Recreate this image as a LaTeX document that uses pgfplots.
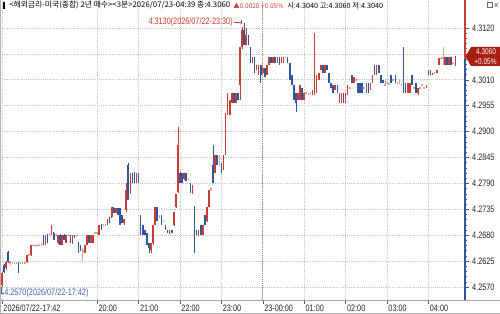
\documentclass[border=0pt]{standalone}
\usepackage{pgfplots}
\pgfplotsset{compat=1.18}
\usepackage{pgfplotstable}
\usepackage{fontspec}
\setmainfont{Liberation Sans}[FakeStretch=0.78]
\newfontfamily\kr{Noto Sans CJK KR}
\definecolor{upc}{RGB}{205,60,50}
\definecolor{dnc}{RGB}{50,85,160}
\definecolor{flc}{RGB}{215,160,155}
\definecolor{boxc}{RGB}{170,30,20}
\definecolor{annr}{RGB}{195,60,50}
\definecolor{annb}{RGB}{70,100,165}

\pgfplotstableread{
i o h l c
0 4.2574 4.2602 4.2570 4.2600
1 4.2617 4.2619 4.2600 4.2602
2 4.2610 4.2625 4.2606 4.2623
3 4.2644 4.2646 4.2621 4.2623
4 4.2621 4.2625 4.2617 4.2623
5 4.2621 4.2623 4.2619 4.2621
6 4.2621 4.2623 4.2621 4.2621
7 4.2621 4.2623 4.2619 4.2621
8 4.2621 4.2623 4.2600 4.2600
9 4.2621 4.2623 4.2619 4.2621
10 4.2621 4.2621 4.2619 4.2621
11 4.2621 4.2625 4.2621 4.2621
12 4.2623 4.2638 4.2621 4.2638
13 4.2638 4.2640 4.2636 4.2638
14 4.2638 4.2659 4.2636 4.2659
15 4.2659 4.2661 4.2657 4.2659
16 4.2659 4.2659 4.2657 4.2659
17 4.2659 4.2661 4.2659 4.2659
18 4.2659 4.2661 4.2657 4.2659
19 4.2659 4.2663 4.2659 4.2659
20 4.2680 4.2680 4.2659 4.2663
21 4.2659 4.2680 4.2659 4.2680
22 4.2680 4.2682 4.2663 4.2663
23 4.2680 4.2685 4.2678 4.2680
24 4.2680 4.2702 4.2680 4.2691
25 4.2685 4.2687 4.2670 4.2670
26 4.2680 4.2682 4.2678 4.2680
27 4.2663 4.2680 4.2661 4.2680
28 4.2680 4.2682 4.2659 4.2659
29 4.2659 4.2680 4.2659 4.2680
30 4.2680 4.2682 4.2670 4.2670
31 4.2663 4.2680 4.2663 4.2680
32 4.2680 4.2682 4.2678 4.2680
33 4.2680 4.2680 4.2663 4.2663
34 4.2663 4.2680 4.2661 4.2680
35 4.2680 4.2680 4.2674 4.2674
36 4.2678 4.2680 4.2676 4.2678
37 4.2663 4.2665 4.2642 4.2642
38 4.2659 4.2659 4.2646 4.2646
39 4.2649 4.2653 4.2623 4.2646
40 4.2642 4.2659 4.2642 4.2659
41 4.2659 4.2680 4.2659 4.2680
42 4.2680 4.2680 4.2663 4.2663
43 4.2663 4.2680 4.2663 4.2680
44 4.2663 4.2680 4.2663 4.2680
45 4.2685 4.2687 4.2683 4.2685
46 4.2685 4.2685 4.2683 4.2685
47 4.2680 4.2702 4.2680 4.2702
48 4.2702 4.2704 4.2691 4.2691
49 4.2702 4.2704 4.2700 4.2702
50 4.2702 4.2702 4.2700 4.2702
51 4.2702 4.2715 4.2702 4.2715
52 4.2719 4.2719 4.2706 4.2706
53 4.2719 4.2740 4.2717 4.2740
54 4.2738 4.2740 4.2727 4.2727
55 4.2727 4.2738 4.2727 4.2738
56 4.2738 4.2738 4.2723 4.2723
57 4.2738 4.2738 4.2702 4.2702
58 4.2723 4.2723 4.2706 4.2706
59 4.2706 4.2715 4.2702 4.2715
60 4.2734 4.2791 4.2730 4.2776
61 4.2829 4.2833 4.2755 4.2755
62 4.2770 4.2812 4.2768 4.2812
63 4.2812 4.2812 4.2791 4.2791
64 4.2812 4.2814 4.2791 4.2791
65 4.2791 4.2812 4.2791 4.2812
66 4.2812 4.2812 4.2791 4.2791
67 4.2723 4.2723 4.2680 4.2680
68 4.2702 4.2702 4.2680 4.2680
69 4.2691 4.2691 4.2680 4.2680
70 4.2685 4.2685 4.2659 4.2659
71 4.2663 4.2663 4.2642 4.2653
72 4.2649 4.2663 4.2642 4.2663
73 4.2663 4.2702 4.2660 4.2702
74 4.2702 4.2740 4.2702 4.2740
75 4.2740 4.2740 4.2710 4.2710
76 4.2719 4.2723 4.2717 4.2723
77 4.2723 4.2723 4.2702 4.2702
78 4.2710 4.2712 4.2708 4.2710
79 4.2702 4.2702 4.2691 4.2691
80 4.2691 4.2691 4.2685 4.2685
81 4.2685 4.2691 4.2683 4.2691
82 4.2691 4.2691 4.2685 4.2685
83 4.2702 4.2730 4.2700 4.2730
84 4.2740 4.2768 4.2738 4.2768
85 4.2772 4.2910 4.2770 4.2872
86 4.2812 4.2814 4.2791 4.2791
87 4.2812 4.2812 4.2791 4.2791
88 4.2800 4.2812 4.2798 4.2812
89 4.2812 4.2812 4.2795 4.2795
90 4.2800 4.2802 4.2798 4.2800
91 4.2791 4.2791 4.2770 4.2770
92 4.2770 4.2787 4.2768 4.2787
93 4.2740 4.2742 4.2642 4.2680
94 4.2691 4.2691 4.2680 4.2680
95 4.2680 4.2691 4.2678 4.2691
96 4.2702 4.2702 4.2680 4.2680
97 4.2680 4.2702 4.2680 4.2702
98 4.2723 4.2723 4.2702 4.2702
99 4.2710 4.2740 4.2708 4.2740
100 4.2740 4.2776 4.2740 4.2776
101 4.2776 4.2780 4.2774 4.2780
102 4.2829 4.2872 4.2791 4.2791
103 4.2812 4.2850 4.2812 4.2850
104 4.2850 4.2850 4.2829 4.2829
105 4.2829 4.2850 4.2827 4.2829
106 4.2833 4.2833 4.2812 4.2819
107 4.2819 4.2850 4.2819 4.2850
108 4.2850 4.2940 4.2850 4.2940
109 4.2935 4.2982 4.2935 4.2982
110 4.2935 4.2967 4.2935 4.2967
111 4.2961 4.2982 4.2961 4.2982
112 4.2982 4.2982 4.2961 4.2961
113 4.2961 4.2982 4.2961 4.2982
114 4.2982 4.2982 4.2967 4.2967
115 4.2999 4.3080 4.2967 4.3080
116 4.3080 4.3122 4.3075 4.3116
117 4.3116 4.3130 4.3084 4.3084
118 4.3084 4.3120 4.3084 4.3105
119 4.3105 4.3105 4.3084 4.3084
120 4.3080 4.3080 4.3046 4.3046
121 4.3046 4.3058 4.3046 4.3058
122 4.3058 4.3058 4.3025 4.3025
123 4.3031 4.3041 4.3031 4.3041
124 4.3020 4.3041 4.3020 4.3041
125 4.3041 4.3041 4.3003 4.3020
126 4.3025 4.3035 4.3025 4.3035
127 4.3035 4.3035 4.3016 4.3016
128 4.3020 4.3041 4.3020 4.3041
129 4.3041 4.3058 4.3041 4.3058
130 4.3058 4.3058 4.3046 4.3046
131 4.3046 4.3058 4.3046 4.3058
132 4.3058 4.3058 4.3046 4.3046
133 4.3046 4.3058 4.3046 4.3058
134 4.3058 4.3058 4.3041 4.3041
135 4.3046 4.3058 4.3046 4.3058
136 4.3046 4.3058 4.3046 4.3058
137 4.3058 4.3060 4.3056 4.3058
138 4.3058 4.3058 4.3046 4.3046
139 4.3046 4.3046 4.3010 4.3010
140 4.3020 4.3020 4.2999 4.2999
141 4.2999 4.2999 4.2967 4.2967
142 4.2982 4.2982 4.2942 4.2961
143 4.2967 4.2982 4.2967 4.2982
144 4.2967 4.2999 4.2967 4.2999
145 4.2993 4.2993 4.2967 4.2967
146 4.2967 4.2982 4.2967 4.2982
147 4.2982 4.2984 4.2980 4.2982
148 4.2978 4.2982 4.2978 4.2982
149 4.2982 4.2984 4.2980 4.2982
150 4.2978 4.2988 4.2978 4.2988
151 4.2982 4.3109 4.2978 4.2988
152 4.2982 4.3020 4.2982 4.3020
153 4.3010 4.3025 4.3010 4.3025
154 4.3031 4.3041 4.3031 4.3041
155 4.3041 4.3041 4.3025 4.3025
156 4.3025 4.3041 4.3025 4.3041
157 4.3041 4.3041 4.3031 4.3031
158 4.3025 4.3025 4.3003 4.3003
159 4.3003 4.3003 4.2993 4.2993
160 4.2999 4.2999 4.2982 4.2982
161 4.2988 4.2999 4.2988 4.2999
162 4.2999 4.2999 4.2982 4.2982
163 4.2961 4.2982 4.2961 4.2982
164 4.2961 4.2982 4.2961 4.2982
165 4.2982 4.2982 4.2961 4.2961
166 4.2961 4.2982 4.2961 4.2982
167 4.2978 4.2999 4.2978 4.2999
168 4.2993 4.2995 4.2991 4.2993
169 4.3020 4.3020 4.3003 4.3003
170 4.3003 4.3016 4.3003 4.3016
171 4.3010 4.3012 4.3008 4.3010
172 4.3003 4.3003 4.2982 4.2982
173 4.3003 4.3003 4.2982 4.2982
174 4.3003 4.3003 4.2982 4.2982
175 4.2993 4.2995 4.2991 4.2993
176 4.3003 4.3003 4.2982 4.2982
177 4.3003 4.3003 4.2982 4.2982
178 4.2988 4.3003 4.2988 4.3003
179 4.3003 4.3020 4.3003 4.3020
180 4.3041 4.3041 4.3020 4.3020
181 4.3020 4.3041 4.3020 4.3041
182 4.3041 4.3041 4.3025 4.3025
183 4.3020 4.3020 4.3003 4.3003
184 4.3010 4.3010 4.3003 4.3003
185 4.2999 4.3010 4.2999 4.2999
186 4.3003 4.3005 4.3001 4.3003
187 4.2999 4.3003 4.2999 4.3003
188 4.3020 4.3020 4.3003 4.3003
189 4.3010 4.3012 4.3008 4.3010
190 4.3020 4.3020 4.3003 4.3003
191 4.3003 4.3005 4.3001 4.3003
192 4.3003 4.3010 4.3001 4.3003
193 4.2999 4.3001 4.2997 4.2999
194 4.3003 4.3080 4.2982 4.2988
195 4.3003 4.3003 4.2982 4.2982
196 4.2982 4.3003 4.2982 4.3003
197 4.2982 4.3003 4.2982 4.3003
198 4.3020 4.3020 4.2999 4.2999
199 4.2993 4.2995 4.2991 4.2993
200 4.3003 4.3003 4.2982 4.2982
201 4.2982 4.2993 4.2978 4.2993
202 4.2993 4.2995 4.2991 4.2993
203 4.2999 4.3001 4.2997 4.2999
204 4.2993 4.2995 4.2991 4.2993
205 4.2993 4.2999 4.2993 4.2999
206 4.3020 4.3031 4.3020 4.3031
207 4.3031 4.3031 4.3020 4.3020
208 4.3020 4.3025 4.3020 4.3025
209 4.3025 4.3027 4.3023 4.3025
210 4.3025 4.3031 4.3025 4.3031
211 4.3041 4.3056 4.3041 4.3056
212 4.3056 4.3058 4.3054 4.3056
213 4.3056 4.3080 4.3041 4.3058
214 4.3041 4.3058 4.3041 4.3058
215 4.3058 4.3058 4.3041 4.3041
216 4.3041 4.3058 4.3041 4.3058
217 4.3058 4.3058 4.3041 4.3041
218 4.3046 4.3048 4.3044 4.3046
219 4.3040 4.3060 4.3040 4.3060
}\bars

\pgfplotsset{
  upf/.style={x filter/.expression={\thisrow{c}>\thisrow{o} ? x : nan}},
  dnf/.style={x filter/.expression={\thisrow{c}<\thisrow{o} ? x : nan}},
  flf/.style={x filter/.expression={\thisrow{c}==\thisrow{o} ? x : nan}},
  eb/.style 2 args={draw=none, mark=none, error bars/y dir=both, error bars/y explicit,
     error bars/error mark=none, error bars/error bar style={line width=#1, color=#2, draw, solid}},
}
\newcommand{\tfont}{\fontsize{7}{8}\selectfont}

\begin{document}
\begin{tikzpicture}
\useasboundingbox (0,-10.5pt) rectangle (375pt,225pt);
\fill[white] (0,-10.5pt) rectangle (375pt,225pt);
\begin{axis}[
  at={(0,0)}, anchor=south west, scale only axis,
  width=348.75pt, height=225pt,
  xmin=-0.966, xmax=223.67,
  ymin=4.25424, ymax=4.31795,
  axis line style={draw=none},
  clip=false,
  xtick={0,46,66,86,106,126,146,166,186,206},
  xticklabels={2026/07/22-17:42,20:00,21:00,22:00,23:00,23-00:00,01:00,02:00,03:00,04:00},
  xtick pos=left, xticklabel pos=left,
  ytick={4.2570,4.2625,4.2680,4.2735,4.2790,4.2845,4.2900,4.2955,4.3010,4.3065,4.3120},
  yticklabels={4.2570,4.2625,4.2680,4.2735,4.2790,4.2845,4.2900,4.2955,4.3010,,4.3120},
  ytick pos=right, yticklabel pos=right,
  minor y tick num=4,
  tick align=outside,
  major tick length=3pt, minor tick length=1.5pt,
  tick style={color=black!65, line width=0.4pt},
  grid=major,
  major grid style={densely dotted, color=black!22, line width=0.5pt},
  minor grid style={draw=none},
  yticklabel style={font=\tfont, anchor=west, inner sep=0pt, xshift=2.2pt, text=black!85},
  xticklabel style={font=\tfont, anchor=north west, inner sep=0pt, xshift=0.9pt, yshift=-0.3pt, text=black!85},
]
% wicks
\addplot[upf, eb={0.45pt}{upc}]
  table[x=i, y expr={(\thisrow{h}+\thisrow{l})/2}, y error expr={(\thisrow{h}-\thisrow{l})/2}] {\bars};
\addplot[dnf, eb={0.45pt}{dnc}]
  table[x=i, y expr={(\thisrow{h}+\thisrow{l})/2}, y error expr={(\thisrow{h}-\thisrow{l})/2}] {\bars};
\addplot[flf, eb={0.45pt}{flc}]
  table[x=i, y expr={(\thisrow{h}+\thisrow{l})/2}, y error expr={(\thisrow{h}-\thisrow{l})/2}] {\bars};
% bodies
\addplot[upf, eb={1.2pt}{upc}]
  table[x=i, y expr={(\thisrow{o}+\thisrow{c})/2}, y error expr={max(abs(\thisrow{c}-\thisrow{o})/2,0.00012)}] {\bars};
\addplot[dnf, eb={1.2pt}{dnc}]
  table[x=i, y expr={(\thisrow{o}+\thisrow{c})/2}, y error expr={max(abs(\thisrow{c}-\thisrow{o})/2,0.00012)}] {\bars};
\addplot[flf, eb={1.2pt}{flc}]
  table[x=i, y expr={(\thisrow{o}+\thisrow{c})/2}, y error expr={max(abs(\thisrow{c}-\thisrow{o})/2,0.00012)}] {\bars};
% day separator
\draw[densely dotted, black!45, line width=0.5pt] (axis cs:126,4.25424) -- (axis cs:126,4.31795);
% right axis line
\draw[line width=1.5pt, upc] (axis cs:223.67,4.31795) -- (axis cs:223.67,4.3055);
\draw[line width=1.5pt, dnc] (axis cs:223.67,4.3055) -- (axis cs:223.67,4.25424);
\end{axis}
\begin{scope}[shift={(0,225pt)}, x=0.75pt, y=-0.75pt]
  % frame
  \draw[black!35, line width=0.6pt] (0,300) -- (500,300);
  \draw[black!30, line width=0.6pt] (0.4,0) -- (0.4,314);
  \draw[black!30, line width=0.6pt] (0,313.6) -- (500,313.6);
  % price box
  \fill[boxc] (465.5,56.5) -- (471,47) -- (500,47) -- (500,66) -- (471,66) -- cycle;
  \node[text=white, font=\fontsize{6.2}{7}\selectfont, inner sep=0pt] at (486,52) {4.3060};
  \node[text=white, font=\fontsize{6.2}{7}\selectfont, inner sep=0pt] at (485.5,61.2) {+0.05\%};
  % annotations
  \node[anchor=east, text=annr, font=\tfont, inner sep=0pt] at (233,22.5) {4.3130(2026/07/22-23:30)};
  \draw[annr, line width=0.5pt] (233.5,22.5) -- (241,22.5);
  \draw[annr, line width=0.5pt] (241,20.5) -- (241,24.5);
  \draw[annb, line width=0.5pt] (1.8,287) -- (1.8,293) -- (4,293);
  \node[anchor=west, text=annb, font=\tfont, inner sep=0pt] at (4,293) {4.2570(2026/07/22-17:42)};
  % title
  \fill[black] (2.5,2.5) rectangle (4.5,9);
  \node[anchor=west, inner sep=0pt] at (9,5.5) {\resizebox{165.75pt}{!}{\kr <해외금리-미국(종합) 2년 매수><3분>2026/07/23-04:39 종:4.3060}};
  \node[anchor=west, inner sep=0pt, text=upc] at (233,5.5) {\resizebox{37.5pt}{!}{\kr ▲0.0020 +0.05\%}};
  \node[anchor=west, inner sep=0pt] at (287,5.5) {\resizebox{72pt}{!}{\kr 시:4.3040 고:4.3060 저:4.3040}};
  % window icons
  \draw[black!60, line width=0.4pt] (487,2.5) rectangle (492,7.5);
  \draw[black!60, line width=1pt] (487,2.8) -- (492,2.8);
  \draw[black!60, line width=0.4pt] (494.5,3) -- (498,7) (494.5,7) -- (498,3);
\end{scope}
\end{tikzpicture}
\end{document}
